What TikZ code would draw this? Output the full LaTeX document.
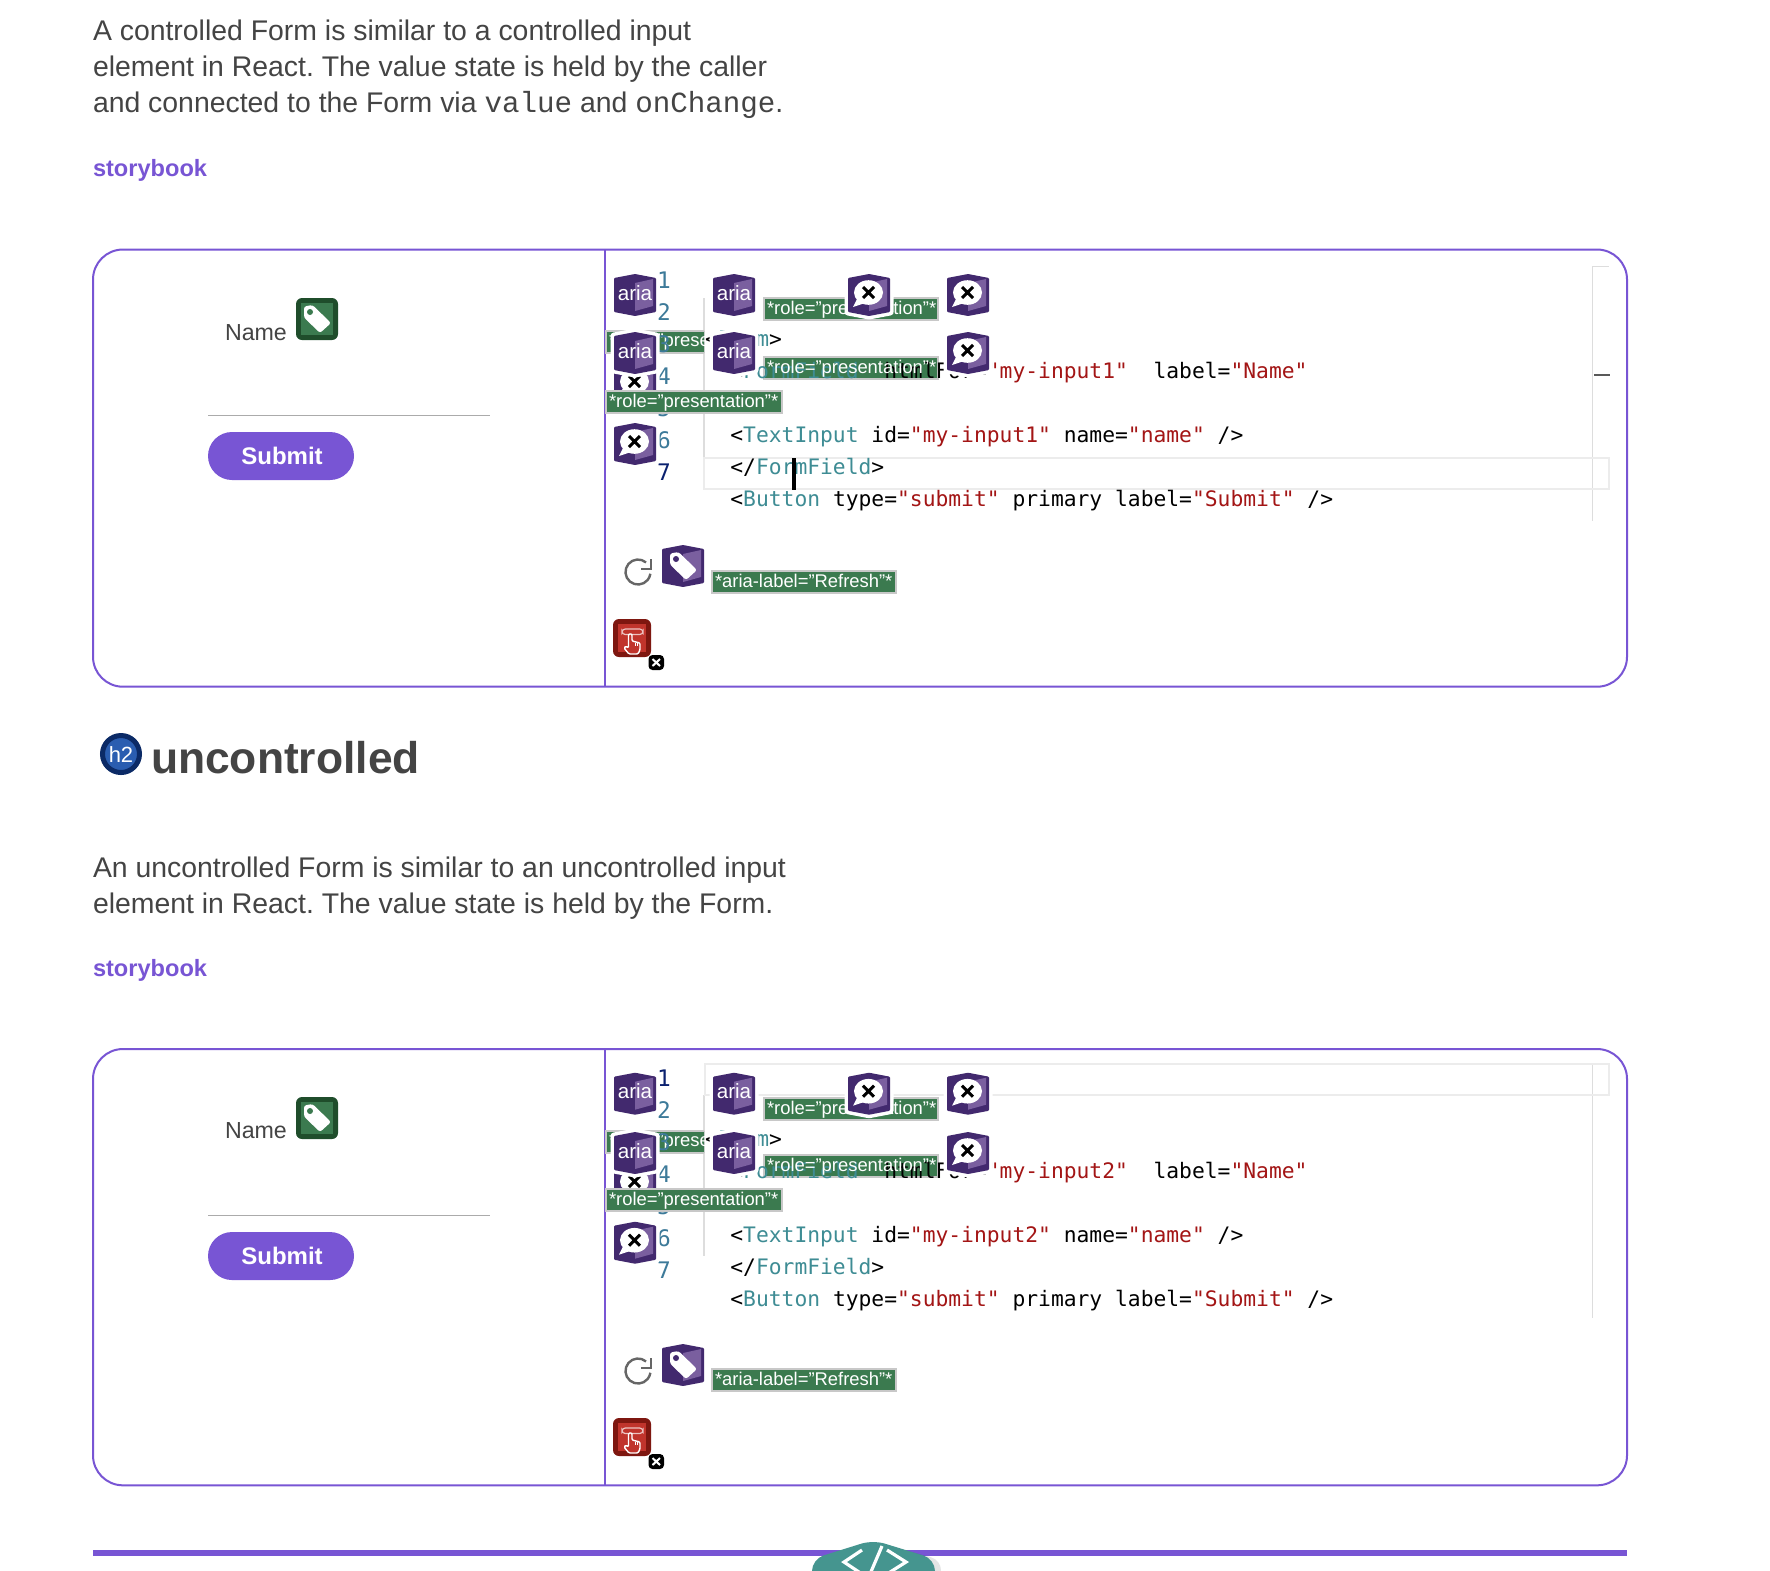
\documentclass[tikz,border=0pt]{standalone}
\usepackage{fontspec}
\setmainfont{Liberation Sans}
\newfontfamily\monof{DejaVu Sans Mono}
\newfontfamily\inlf{Liberation Mono}
\newfontfamily\bodyf{Liberation Sans}
\definecolor{purp}{HTML}{7855D4}
\definecolor{bodyc}{HTML}{444444}
\definecolor{shieldd}{HTML}{42296E}
\definecolor{shieldl}{HTML}{7A5F9F}
\definecolor{grn}{HTML}{3B7A4F}
\definecolor{grnd}{HTML}{1F4D2B}
\definecolor{lblb}{HTML}{C8C8C8}
\definecolor{tagc}{HTML}{3E8C94}
\definecolor{strc}{HTML}{A31515}
\definecolor{numc}{HTML}{3D7A99}
\definecolor{numa}{HTML}{0B216F}
\definecolor{reddk}{HTML}{7E1710}
\definecolor{redl}{HTML}{C0342C}
\definecolor{hlc}{HTML}{ECECEC}
\definecolor{guide}{HTML}{DDDDDD}
\definecolor{tealb}{HTML}{45958F}
\newcommand{\shieldbase}{%
  \draw[white,line width=3.5pt,line join=round] (21,0) -- (42,4) -- (42,38) -- (21,42) -- (0,38) -- (0,4) -- cycle;
  \fill[shieldd,rounded corners=0.5pt] (21,0) -- (42,4) -- (42,38) -- (21,42) -- (0,38) -- (0,4) -- cycle;
  \fill[shieldl] (21,9) -- (39,5) -- (39,32) -- (21,37) -- cycle;}
\tikzset{
  every node/.style={inner sep=0pt,outer sep=0pt},
  txt/.style={anchor=base west},
  ariaicon/.pic={\shieldbase
    \node[anchor=base,text=white,font=\fontsize{10.3}{12}\selectfont] (-t) at (21,26) {aria};},
  bubbleicon/.pic={\shieldbase
    \fill[white] (20.5,18.5) ellipse [x radius=14.5,y radius=12.3];
    \fill[white] (9,25) -- (5,33) -- (17,29) -- cycle;
    \draw[black,line width=1.5pt] (15,13) -- (26,24) (26,13) -- (15,24);},
  tagshape/.pic={
    \fill[white,rounded corners=1.2pt] (8,8.5) -- (16.5,7) -- (35,25) -- (24,35) -- (8,19.5) -- cycle;},
  tagicon/.pic={\shieldbase
    \pic {tagshape};
    \fill[shieldd] (14,14) circle (3);},
  greentag/.pic={
    \fill[grnd,rounded corners=3pt] (0,0) rectangle (42,42);
    \fill[grn] (5,5) rectangle (37,37);
    \pic {tagshape};
    \fill[grn] (14,14) circle (3);},
  handicon/.pic={
    \fill[reddk,rounded corners=3pt] (0,0) rectangle (38,38);
    \fill[redl] (5,5) rectangle (33,33);
    \draw[white!70!redl,line width=0.6pt,rounded corners=1.6pt] (9,10) rectangle (30,15.5);
    \draw[white,fill=redl,line width=0.7pt,line join=round,rounded corners=0.6pt] (15.5,15) -- (19,15) -- (19,22) -- (27,24) -- (27,31) -- (25,35) -- (16,35) -- (11,29) -- (13,27) -- (15.5,29) -- cycle;
    \draw[white,line width=0.4pt] (22,23.5) -- (22,27) (24.5,24) -- (24.5,27);
    \fill[black,rounded corners=2pt] (35.5,36) rectangle (51,51);
    \draw[white,line width=1pt] (39.5,40) -- (47,47) (47,40) -- (39.5,47);}
}
\newcommand{\lblbg}[4]{\draw[lblb,fill=grn,line width=1pt] (#1,#2) rectangle (#3,#4);}
\newcommand{\lblfont}{\fontsize{9.2}{11}\selectfont\color{white}}
\newcommand{\codefont}{\monof\fontsize{10.65}{12}\selectfont}
\newcommand{\tg}[1]{\textcolor{tagc}{#1}}
\newcommand{\st}[1]{\textcolor{strc}{#1}}
\newcommand{\drawpanel}[7]{%
\begin{scope}[shift={(0,#2)}]
  \draw[purp,line width=1pt,rounded corners=15pt] (93,249.5+\dbox) rectangle (1627,686.7+\dboxb);
  \draw[purp,line width=1pt] (605,249.5+\dbox) -- (605,686.7+\dboxb);
  \node[txt,text=bodyc,font=\fontsize{11.6}{14}\selectfont] (name#1) at (225,340.5+\dname) {Name};
  \pic (gt#1) at (296,298+\dtag) {greentag};
  \draw[black!33,line width=0.7pt] (208,415.5) -- (490,415.5);
  \node[fill=purp,minimum width=73pt,minimum height=24pt,rounded corners=12pt] (btn#1) at (281,456) {};
  \node[text=white,font=\bfseries\fontsize{12}{14}\selectfont] (submit#1) at (282,456) {Submit};
  #6
  \lblbg{764}{298}{938}{320}
  \lblbg{764}{357+\dlb}{938}{379+\dlb}
  \begin{scope}
    \clip (600,320) rectangle (704,365);
    \lblbg{606}{330.5}{782}{352.5}
    \node[txt,font=\lblfont] (lg#1) at (609,346.5) {*role="presentation"*};
  \end{scope}
  \begin{scope}[every node/.append style={txt,font=\codefont}]
    \node (c3#1) at (705,346) {<\tg{Form}>};
    \node (c4#1) at (730.4,378) {<\tg{FormField}\ \ htmlFor=\st{"my-input#3"}\ \ label=\st{"Name"}};
    \node (c6#1) at (730.4,442) {<\tg{TextInput} id=\st{"my-input#3"} name=\st{"name"} />};
    \node (c7#1) at (730.4,474) {</\tg{FormField}>};
    \node (c8#1) at (730.4,506) {<\tg{Button} type=\st{"submit"} primary label=\st{"Submit"} />};
  \end{scope}
  #7
  \begin{scope}[every node/.append style={anchor=base,font=\monof\fontsize{11.4}{13}\selectfont}]
    \node[text=#4] (n1#1) at (664,288+\dnum) {1};
    \node[text=numc] (n2#1) at (664,320+\dnum) {2};
    \node[text=numc] (n3#1) at (664,352+\dnum) {3};
    \node[text=numc] (n4#1) at (664,384+\dnum) {4};
    \node[text=numc] (n5#1) at (664,416+\dnum) {5};
    \node[text=numc] (n6#1) at (664,448+\dnum) {6};
    \node[text=#5] (n7#1) at (664,480+\dnum) {7};
  \end{scope}
  \node[txt,font=\lblfont] (la#1) at (767,314.5) {*role="presentation"*};
  \node[txt,font=\lblfont] (lb#1) at (767,373+\dlb) {*role="presentation"*};
  \pic (h#1) at (614,363) {bubbleicon};
  \pic (a#1) at (614,274+\dic) {ariaicon};
  \pic (b#1) at (713,274+\dic) {ariaicon};
  \pic (cc#1) at (848,274+\dic) {bubbleicon};
  \pic (d#1) at (947,274+\dic) {bubbleicon};
  \pic (e#1) at (614,332) {ariaicon};
  \pic (f#1) at (713,332) {ariaicon};
  \pic (g#1) at (947,332) {bubbleicon};
  \pic (i#1) at (614,423+\dic) {bubbleicon};
  \lblbg{606}{390.5+\dlb}{782}{412.5+\dlb}
  \node[txt,font=\lblfont] (lc#1) at (609,407+\dlb) {*role="presentation"*};
  \draw[black!60,line width=1.2pt] (638,572+\dbot) ++(-50:12.5) arc[start angle=-50,end angle=-352,radius=12.5];
  \draw[black!60,line width=1.2pt,line join=miter] (651,559+\dbot) -- (651,569+\dbot) -- (641,569+\dbot);
  \pic (t#1) at (662,545+\dbot) {tagicon};
  \lblbg{712}{571+\dlb}{896}{593+\dlb}
  \node[txt,font=\lblfont] (lr#1) at (715,587.5+\dlb) {*aria-label="Refresh"*};
  \pic (r#1) at (613,619+\dbot) {handicon};
\end{scope}}
\begin{document}
\frenchspacing
\begin{tikzpicture}[x=0.5pt,y=-0.5pt]
\useasboundingbox (0,0) rectangle (1770,1570);
\clip (0,0) rectangle (1770,1570);
\fill[white] (0,0) rectangle (1770,1570);
\begin{scope}[every node/.append style={txt,text=bodyc,font=\bodyf\fontsize{14.2}{18}\selectfont}]
  \node (p1) at (93,40) {A controlled Form is similar to a controlled input};
  \node (p2) at (93,76) {element in React. The value state is held by the caller};
  \node (p3) at (93,112) {and connected to the Form via {\inlf\fontsize{14.6}{18}\selectfont value} and {\inlf\fontsize{14.6}{18}\selectfont onChange}.};
  \node (q1) at (93,877.5) {An uncontrolled Form is similar to an uncontrolled input};
  \node (q2) at (93,913.5) {element in React. The value state is held by the Form.};
\end{scope}
\node[txt,text=purp,font=\bfseries\fontsize{11.8}{14}\selectfont] (sb1) at (93,176) {storybook};
\node[txt,text=purp,font=\bfseries\fontsize{11.8}{14}\selectfont] (sb2) at (93,976) {storybook};
\def\dbox{0}\def\dboxb{0}\def\dname{0}\def\dtag{0}\def\dlb{0}\def\dnum{0}\def\dic{0}\def\dbot{0}
\drawpanel{x}{0}{1}{numc}{numa}{%
  \draw[guide,line width=0.7pt] (704,298) -- (704,458);
  \draw[guide,line width=0.5pt] (1592,266) -- (1592,521) (1592,266) -- (1609,266);
  \draw[hlc,line width=1pt] (704,458) rectangle (1609,489);
  \draw[black!65,line width=1pt] (1594,375) -- (1610,375);
}{%
  \fill[black] (792.2,458) rectangle (795.8,490);
}
\draw[fill={rgb,255:red,42;green,93;blue,176},draw={rgb,255:red,11;green,42;blue,102},line width=2.5pt] (121,754) circle (18.5);
\node[anchor=center,text=white,font=\fontsize{11}{13}\selectfont] (h2) at (121,755) {h2};
\node[txt,text=bodyc,font=\bfseries\fontsize{22.2}{26}\selectfont] (head) at (151,773) {uncontrolled};
\def\dbox{-0.5}\def\dboxb{-1.4}\def\dname{-2}\def\dtag{-1}\def\dlb{-2}\def\dnum{-2}\def\dic{-1.3}\def\dbot{-1}
\drawpanel{y}{800}{2}{numa}{numc}{%
  \draw[guide,line width=0.7pt] (704,295) -- (704,456);
  \draw[guide,line width=0.5pt] (1592,264) -- (1592,518);
  \draw[hlc,line width=1pt] (705,264) rectangle (1609,295);
}{}
\draw[purp,line width=2.8pt] (93,1553) -- (1627,1553);
\fill[black,opacity=0.1,rounded corners=5pt] (818,1580) -- (818,1560) -- (879,1543) -- (941,1560) -- (941,1580) -- cycle;
\fill[tealb,rounded corners=6pt] (812,1590) -- (812,1559) -- (873,1540) -- (935,1559) -- (935,1590) -- cycle;
\draw[white,line width=1.6pt] (862,1550) -- (844,1562) -- (862,1574) (882,1546) -- (870,1574) (887,1550) -- (906,1562) -- (887,1574);
\end{tikzpicture}
\end{document}
